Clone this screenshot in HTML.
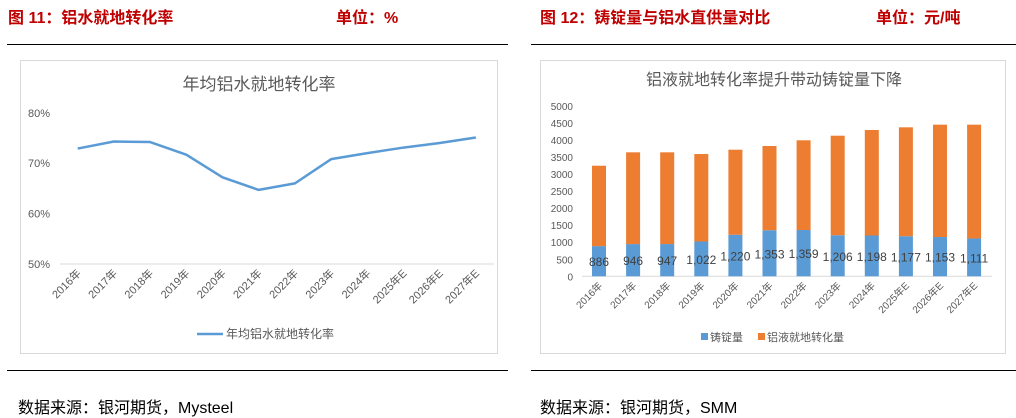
<!DOCTYPE html>
<html><head><meta charset="utf-8"><style>
body{margin:0;width:1016px;height:418px;background:#fff;position:relative;overflow:hidden;font-family:"Liberation Sans","Noto Sans CJK SC",sans-serif}
.hdr{position:absolute;top:4px;font-size:16px;font-weight:bold;color:#c00000}
.ftr{position:absolute;top:394px;font-size:16px;color:#000}
.rule{position:absolute;height:1px;background:#000}
.panel{position:absolute;top:60px;height:294px;border:1px solid #d9d9d9;box-sizing:border-box;background:#fff}
text{font-family:"Liberation Sans","Noto Sans CJK SC",sans-serif}
</style></head><body>
<div class="hdr" style="left:8px">图 11：铝水就地转化率</div>
<div class="hdr" style="left:336px">单位：%</div>
<div class="hdr" style="left:540px">图 12：铸锭量与铝水直供量对比</div>
<div class="hdr" style="left:876px">单位：元/吨</div>
<div class="rule" style="left:7px;width:501px;top:44px"></div>
<div class="rule" style="left:531px;width:485px;top:44px"></div>
<div class="rule" style="left:7px;width:501px;top:370px"></div>
<div class="rule" style="left:531px;width:485px;top:370px"></div>
<div class="ftr" style="left:18px">数据来源：银河期货，Mysteel</div>
<div class="ftr" style="left:540px">数据来源：银河期货，SMM</div>
<div class="panel" style="left:20px;width:478px"></div>
<div class="panel" style="left:540px;width:466px"></div>
<svg id="svg" width="1016" height="418" style="position:absolute;left:0;top:0"></svg>
<script>
const years=["2016年","2017年","2018年","2019年","2020年","2021年","2022年","2023年","2024年","2025年E","2026年E","2027年E"];
const rate=[72.9,74.3,74.2,71.7,67.2,64.7,66.0,70.8,72.0,73.1,74.0,75.1];
const rateTicks=[50,60,70,80];
const ingot=[886,946,947,1022,1220,1353,1359,1206,1198,1177,1153,1111];
const total=[3247,3640,3640,3590,3717,3826,3993,4128,4295,4374,4452,4452];
const barTicks=[0,500,1000,1500,2000,2500,3000,3500,4000,4500,5000];
const ns="http://www.w3.org/2000/svg",svg=document.getElementById('svg');
function mk(t,a,txt){const e=document.createElementNS(ns,t);for(const k in a)e.setAttribute(k,a[k]);if(txt!=null)e.textContent=txt;svg.appendChild(e);return e;}
// Left chart
const lx=i=>77.7+i*36.2, ly=v=>264-(v-50)*5.04;
let e=mk('text',{x:259,y:90,'font-size':17,fill:'#595959','text-anchor':'middle'},'年均铝水就地转化率');

e=mk('line',{x1:60,x2:494,y1:ly(50),y2:ly(50),stroke:'#d9d9d9'});

rateTicks.forEach(t=>{e=mk('text',{x:50,y:ly(t)+4,'font-size':11,fill:'#595959','text-anchor':'end'},t+'%');
});
years.forEach((y,i)=>{e=mk('text',{x:lx(i)+4,y:ly(50)+10,'font-size':11,fill:'#595959','text-anchor':'end',transform:`rotate(-45 ${lx(i)+4} ${ly(50)+10})`},y);
});
e=mk('polyline',{points:rate.map((v,i)=>lx(i)+','+ly(v)).join(' '),fill:'none',stroke:'#5b9bd5','stroke-width':2.5,'stroke-linejoin':'round'});

e=mk('line',{x1:197,x2:223,y1:334,y2:334,stroke:'#5b9bd5','stroke-width':2.5});

e=mk('text',{x:226,y:338,'font-size':12,fill:'#595959'},'年均铝水就地转化率');

// Right chart
const bx=i=>599+i*34.1, by=v=>276.3-v*0.03406, bw=14;
e=mk('text',{x:774,y:85,'font-size':16,fill:'#595959','text-anchor':'middle'},'铝液就地转化率提升带动铸锭量下降');

barTicks.forEach(t=>{e=mk('text',{x:573,y:by(t)+4,'font-size':10,fill:'#595959','text-anchor':'end'},t);
});
e=mk('line',{x1:582,x2:992,y1:by(0),y2:by(0),stroke:'#d9d9d9'});

years.forEach((y,i)=>{
e=mk('rect',{x:bx(i)-bw/2,y:by(ingot[i]),width:bw,height:by(0)-by(ingot[i]),fill:'#5b9bd5'});

e=mk('rect',{x:bx(i)-bw/2,y:by(total[i]),width:bw,height:by(ingot[i])-by(total[i]),fill:'#ed7d31'});

e=mk('text',{x:bx(i),y:by(ingot[i]/2)+5,'font-size':12,fill:'#404040','text-anchor':'middle'},ingot[i].toLocaleString('en-US'));

e=mk('text',{x:bx(i)+4,y:by(0)+10,'font-size':10,fill:'#595959','text-anchor':'end',transform:`rotate(-45 ${bx(i)+4} ${by(0)+10})`},y);
});
e=mk('rect',{x:701,y:333,width:7,height:7,fill:'#5b9bd5'});

e=mk('text',{x:710,y:341,'font-size':11,fill:'#595959'},'铸锭量');

e=mk('rect',{x:758,y:333,width:7,height:7,fill:'#ed7d31'});

e=mk('text',{x:767,y:341,'font-size':11,fill:'#595959'},'铝液就地转化量');

</script>
</body></html>
